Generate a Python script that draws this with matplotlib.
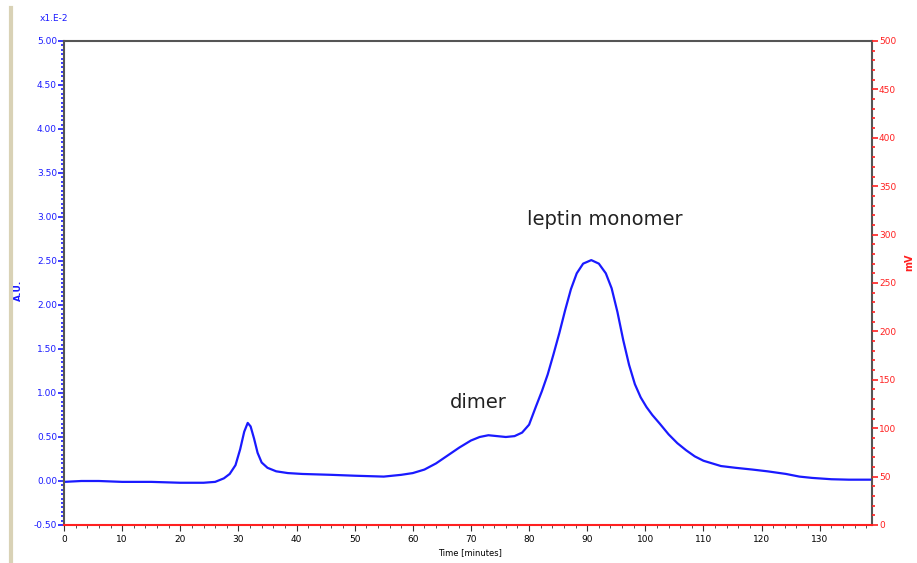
#!/usr/bin/env python3
"""SEC chromatogram of leptin: UV trace with monomer / dimer peaks."""

import matplotlib

matplotlib.use("Agg")
import matplotlib.pyplot as plt
from matplotlib.lines import Line2D
from matplotlib.ticker import MultipleLocator, FormatStrFormatter

# elution time (minutes) and absorbance (x1E-2 A.U.)
time_min = [0, 3, 6, 10, 15, 20, 24, 26, 27.5, 28.5, 29.5, 30.3, 31, 31.6, 32.1,
            32.7, 33.3, 34, 35, 36.5, 38.5, 41, 46, 50, 55, 58, 60, 62, 64, 66,
            68, 70, 71.5, 73, 74.5, 76, 77.5, 78.8, 80, 81.2, 82.2, 83.2, 84.2,
            85.2, 86.2, 87.2, 88.2, 89.3, 90.7, 92, 93.2, 94.2, 95.2, 96.2, 97.2,
            98.2, 99.2, 100.2, 101.2, 102.5, 104, 105.5, 107, 108.5, 110, 111.5,
            113, 115.5, 118.4, 121, 124.2, 126.5, 128.7, 132, 135, 139]
absorb = [-0.01, 0.00, 0.00, -0.01, -0.01, -0.02, -0.02, -0.01, 0.03, 0.08, 0.18,
          0.36, 0.56, 0.66, 0.62, 0.48, 0.32, 0.21, 0.15, 0.11, 0.09, 0.08, 0.07,
          0.06, 0.05, 0.07, 0.09, 0.13, 0.20, 0.29, 0.38, 0.46, 0.50, 0.52, 0.51,
          0.50, 0.51, 0.55, 0.64, 0.85, 1.02, 1.21, 1.44, 1.68, 1.94, 2.18, 2.36,
          2.47, 2.51, 2.47, 2.36, 2.19, 1.92, 1.60, 1.32, 1.10, 0.95, 0.84, 0.75,
          0.65, 0.53, 0.43, 0.35, 0.28, 0.23, 0.20, 0.17, 0.15, 0.13, 0.11, 0.08,
          0.05, 0.035, 0.02, 0.015, 0.015]

peak_labels = ["leptin monomer", "dimer"]
peak_label_pos = [(79.6, 2.91), (66.3, 0.83)]

BLUE = "#1a1aff"
RED = "#ff2020"

fig = plt.figure(figsize=(9.17, 5.63), dpi=100)
ax = fig.add_axes([0.0698, 0.0675, 0.8812, 0.8597])
ax.plot(time_min, absorb, color=BLUE, lw=1.6, solid_capstyle="round",
        solid_joinstyle="round")

ax.set_xlim(0, 139)
ax.set_ylim(-0.5, 5.0)
ax.xaxis.set_major_locator(MultipleLocator(10))
ax.xaxis.set_minor_locator(MultipleLocator(2))
ax.yaxis.set_major_locator(MultipleLocator(0.5))
ax.yaxis.set_minor_locator(MultipleLocator(0.05))
ax.yaxis.set_major_formatter(FormatStrFormatter("%.2f"))

ax.tick_params(axis="y", which="both", colors=BLUE, labelsize=6.5, pad=1, width=1.2)
ax.tick_params(axis="y", which="major", length=4)
ax.tick_params(axis="y", which="minor", length=2.5)
ax.tick_params(axis="x", which="both", colors="#333333", labelcolor="black",
               labelsize=6.5, pad=3)
ax.tick_params(axis="x", which="major", length=4)
ax.tick_params(axis="x", which="minor", length=2.5)

for side in ["left", "right", "top"]:
    ax.spines[side].set_color("#555555")
    ax.spines[side].set_linewidth(1.5)
ax.spines["bottom"].set_color(RED)
ax.spines["bottom"].set_linewidth(1.5)

ax2 = ax.twinx()
ax2.set_ylim(0, 500)
ax2.yaxis.set_major_locator(MultipleLocator(50))
ax2.yaxis.set_minor_locator(MultipleLocator(10))
ax2.tick_params(axis="y", which="both", colors=RED, labelsize=6.5, pad=1, width=1.2)
ax2.tick_params(axis="y", which="major", length=4)
ax2.tick_params(axis="y", which="minor", length=2.5)
for side in ax2.spines:
    ax2.spines[side].set_visible(False)

for text, (tx, ty) in zip(peak_labels, peak_label_pos):
    ax.text(tx, ty, text, fontsize=14, color="#222222", family="DejaVu Sans",
            va="baseline")

fig.text(0.0436, 0.968, "x1.E-2", color=BLUE, fontsize=6.5, ha="left", va="center")
fig.text(0.020, 0.485, "A.U.", color=BLUE, fontsize=6.5, fontweight="bold",
         rotation=90, ha="center", va="center")
fig.text(0.513, 0.018, "Time [minutes]", color="black", fontsize=6, ha="center",
         va="center")
fig.text(0.992, 0.535, "mV", color=RED, fontsize=7, fontweight="bold",
         rotation=90, ha="center", va="center")

# window frame strip on the left edge
fig.add_artist(Line2D([0.0115, 0.0115], [0.0, 0.985], transform=fig.transFigure,
                      color="#d9d2b6", lw=3))

fig.savefig("out.png", dpi=100)
